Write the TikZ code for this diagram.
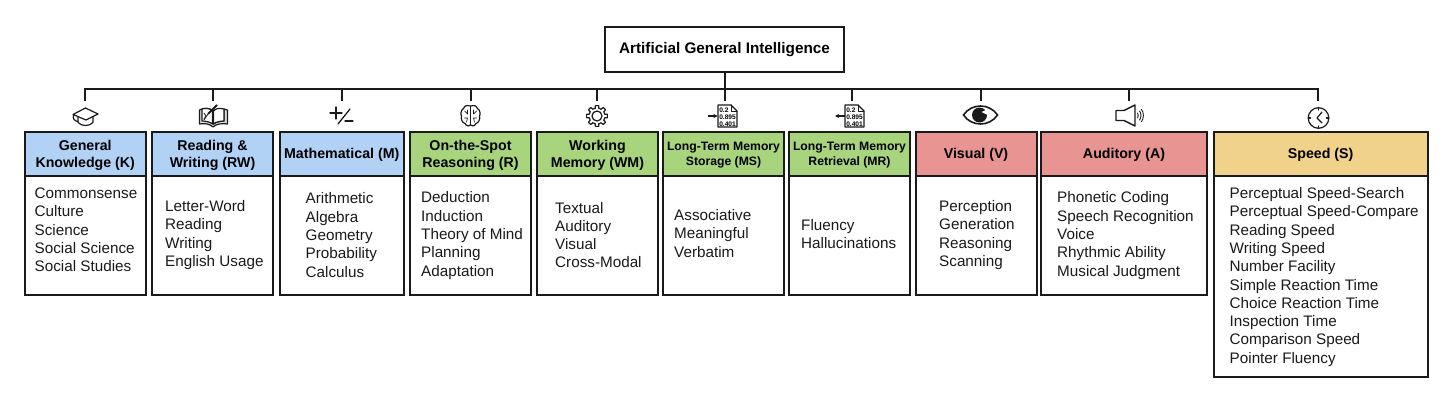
\documentclass[tikz,border=0pt]{standalone}
\usepackage{fontspec}
\setmainfont{Liberation Sans}
\usepackage{xcolor}
\definecolor{knowBlue}{RGB}{178, 210, 245}
\definecolor{thinkGreen}{RGB}{168, 212, 126}
\definecolor{senseRed}{RGB}{231, 148, 146}
\definecolor{speedYellow}{RGB}{240, 210, 138}
\definecolor{lineBlack}{RGB}{26, 26, 26}
\definecolor{pageGray}{RGB}{150, 150, 150}
\usepackage{tikz}
\usetikzlibrary{positioning,arrows.meta}
\tikzset{
rootbox/.style={draw=lineBlack, line width=2pt, fill=white, minimum width=239pt, minimum height=45pt, outer sep=0pt, font=\fontsize{15.3}{18}\selectfont\bfseries},
headbox/.style={draw=lineBlack, line width=2pt, minimum height=43.5pt, inner sep=0pt, outer sep=0pt, text depth=0pt, align=center, font=\fontsize{14.2}{17}\selectfont\bfseries},
smallhead/.style={headbox, font=\fontsize{12.2}{15}\selectfont\bfseries},
bodybox/.style={draw=lineBlack, line width=2pt, fill=white, inner sep=0pt, outer sep=0pt},
itemlist/.style={anchor=west, inner sep=0pt, align=left, text=lineBlack, font=\fontsize{15.25}{18.3}\selectfont},
iconspot/.style={inner sep=0pt, minimum width=20pt, minimum height=32pt, outer sep=0pt},
conn/.style={draw=lineBlack, line width=2pt},
iconline/.style={draw=lineBlack, line width=1.2pt, line join=round, line cap=round},
pics/capicon/.style={code={
\draw[iconline] (-12.5,-1.5) -- (0,-8) -- (12.5,-2) -- (0.5,4) -- cycle;
\draw[iconline] (-7.5,1.5) -- (-7.5,6.5) .. controls (-4,10.5) and (4,10.5) .. (7.5,6.5) -- (7.5,1.5);
\draw[iconline] (-12,-1) .. controls (-13,3) and (-11,5) .. (-7.5,5.5);
}},
pics/bookicon/.style={code={
\draw[iconline, fill=pageGray!35] (-13.5,-6) -- (-13.5,8) .. controls (-8,7) and (-3,8) .. (0,11) .. controls (3,8) and (9,7) .. (14.5,8) -- (14.5,-6) -- (11,-7) -- (11,5) .. controls (7,5) and (3,6) .. (0.5,8) -- (0.5,-5) .. controls (-3,-8) and (-8,-8) .. (-11,-7) -- cycle;
\draw[iconline, fill=white] (0.5,-5) .. controls (3,-8) and (7,-8) .. (11,-7) -- (11,5) .. controls (7,5) and (3,6) .. (0.5,8) -- cycle;
\draw[iconline, fill=white] (-11,-7) .. controls (-8,-8) and (-3,-8) .. (-0.5,-5) -- (-0.5,8) .. controls (-3,6) and (-7,5) .. (-11,5) -- cycle;
\draw[draw=lineBlack, line width=2pt] (4,-11) -- (-5,-2);
\draw[iconline, line width=0.7pt] (-5,-2) -- (-9,4) (-9,-3) -- (-7,0) -- (-9,3);
}},
pics/plusminus/.style={code={
\draw[iconline, line width=1.3pt] (-12,-3) -- (0,-3) (-6,-9) -- (-6,3);
\draw[iconline, line width=1.3pt] (8,-7) -- (-4,8);
\draw[iconline, line width=1.3pt] (3,5) -- (11,5);
}},
pics/brainicon/.style={code={
\draw[iconline] (0,-10) .. controls (-5,-11.5) and (-7,-9) .. (-7,-7.5) .. controls (-10,-6) and (-10,-1) .. (-9,0) .. controls (-10,3) and (-8,7) .. (-5.5,7.5) .. controls (-4,10.5) and (-1,10.5) .. (0,9) .. controls (1,10.5) and (4,10.5) .. (5.5,7.5) .. controls (8,7) and (10,3) .. (9,0) .. controls (10,-1) and (10,-6) .. (7,-7.5) .. controls (7,-9) and (5,-11.5) .. (0,-10) -- cycle;
\draw[iconline, line width=0.7pt] (0,-10) -- (0,9) (-6,-5) -- (-3,-2) -- (-3,-6) (-6,2) -- (-3,2) -- (-4,6) (6,-5) -- (3,-2) -- (3,-6) (6,2) -- (3,2) -- (4,6);
}},
pics/gearicon/.style={code={
\draw[iconline, line width=1.2pt] (0,0) circle (5);
\foreach \a in {0,45,...,315}{
\draw[iconline, line width=1.2pt] (\a-13:8) -- (\a-9:10.5) -- (\a+9:10.5) -- (\a+13:8) arc[start angle=\a+13, end angle=\a+32, radius=8];
}
}},
pics/docicon/.style={code={
\draw[iconline, line width=1.3pt] (-7,-11) -- (6,-11) -- (12,-5) -- (12,11) -- (-7,11) -- cycle;
\draw[iconline, line width=0.8pt] (6,-11) -- (6,-5) -- (12,-5);
\node[inner sep=0pt, font=\fontsize{6.6}{6.8}\selectfont\bfseries, align=left] (numbers) at (2.5,1) {0.2\\0.895\\0.401};
\draw[draw=lineBlack, line width=1.5pt, #1] (-17,0) -- (-7.5,0);
}},
pics/eyeicon/.style={code={
\draw[draw=lineBlack, line width=1.6pt, line join=miter] (-17,0) .. controls (-9,-12) and (9,-12) .. (17,0) .. controls (9,12) and (-9,12) .. (-17,0) -- cycle;
\fill[lineBlack] (-1,0) circle (7.5);
\fill[white] (1,-3) -- (7,-6) -- (7,0) -- cycle;
}},
pics/speakericon/.style={code={
\draw[iconline, line width=1.4pt] (-14,-5) -- (-6,-5) -- (5,-10.5) -- (5,10.5) -- (-6,5) -- (-14,5) -- cycle;
\draw[iconline, line width=0.9pt] (7.5,-2.5) .. controls (8.5,-1) and (8.5,1) .. (7.5,2.5);
\draw[iconline, line width=0.9pt] (9.5,-4.5) .. controls (11.5,-2) and (11.5,2) .. (9.5,4.5);
\draw[iconline, line width=0.9pt] (11.5,-6) .. controls (14,-3) and (14,3) .. (11.5,6);
}},
pics/clockicon/.style={code={
\draw[iconline, line width=1.2pt] (0,0) circle (10.3);
\draw[iconline, line width=1.2pt] (3.5,-6) -- (-1.5,0) -- (3.5,5);
\draw[iconline] (0,-10.3) -- (0,-8) (0,10.3) -- (0,8) (-10.3,0) -- (-8,0) (10.3,0) -- (8,0);
}}
}

\begin{document}
\begin{tikzpicture}[x=1pt, y=-1pt, >={Stealth[length=4pt,width=4pt]}]
\useasboundingbox (0,0) rectangle (1456,420);

\node[rootbox] (root) at (724.5,49.5) {Artificial General Intelligence};

\node[iconspot] (iconK) at (85,117) {};
\node[iconspot] (iconRW) at (213,117) {};
\node[iconspot] (iconM) at (342,117) {};
\node[iconspot] (iconR) at (470.5,117) {};
\node[iconspot] (iconWM) at (597,117) {};
\node[iconspot] (iconMS) at (725,117) {};
\node[iconspot] (iconMR) at (852,117) {};
\node[iconspot] (iconV) at (980.5,117) {};
\node[iconspot] (iconA) at (1128.5,117) {};
\node[iconspot] (iconS) at (1318,117) {};

\pic at (85.5,116) {capicon};
\pic at (213,116) {bookicon};
\pic at (342,116) {plusminus};
\pic at (470.5,116) {brainicon};
\pic at (597,116) {gearicon};
\pic (store) at (725,116) {docicon=->};
\pic (fetch) at (852,116) {docicon=<-};
\pic at (980.5,115) {eyeicon};
\pic at (1130,115.5) {speakericon};
\pic at (1318.5,118) {clockicon};

\coordinate (busK) at (85,89);
\coordinate (busRW) at (213,89);
\coordinate (busM) at (342,89);
\coordinate (busR) at (470.5,89);
\coordinate (busWM) at (597,89);
\coordinate (busMR) at (852,89);
\coordinate (busV) at (980.5,89);
\coordinate (busA) at (1128.5,89);
\coordinate (busS) at (1318,89);

\draw[conn] (iconK.north) -- (busK) -- (busS) -- (iconS.north);
\draw[conn] (root.south -| iconMS) -- (iconMS.north);
\draw[conn] (busRW) -- (iconRW.north);
\draw[conn] (busM) -- (iconM.north);
\draw[conn] (busR) -- (iconR.north);
\draw[conn] (busWM) -- (iconWM.north);
\draw[conn] (busMR) -- (iconMR.north);
\draw[conn] (busV) -- (iconV.north);
\draw[conn] (busA) -- (iconA.north);

\node[headbox, fill=knowBlue, minimum width=121.5pt] (headK) at (85.25,153.75) {General\\Knowledge (K)};
\node[headbox, fill=knowBlue, minimum width=121pt] (headRW) at (212.5,153.75) {Reading \&\\Writing (RW)};
\node[headbox, fill=knowBlue, minimum width=124.5pt] (headM) at (341.75,153.75) {Mathematical (M)};
\node[headbox, fill=thinkGreen, minimum width=121pt] (headR) at (470.5,153.75) {On-the-Spot\\Reasoning (R)};
\node[headbox, fill=thinkGreen, minimum width=121pt] (headWM) at (597.5,153.75) {Working\\Memory (WM)};
\node[smallhead, fill=thinkGreen, minimum width=121pt] (headMS) at (723.5,153.75) {Long-Term Memory\\Storage (MS)};
\node[smallhead, fill=thinkGreen, minimum width=121pt] (headMR) at (849.5,153.75) {Long-Term Memory\\Retrieval (MR)};
\node[headbox, fill=senseRed, minimum width=121pt] (headV) at (976,153.75) {Visual (V)};
\node[headbox, fill=senseRed, minimum width=166pt] (headA) at (1124,153.75) {Auditory (A)};
\node[headbox, fill=speedYellow, minimum width=214.2pt] (headS) at (1320.6,153.75) {Speed (S)};

\node[bodybox, minimum width=121.5pt, minimum height=119.5pt, below=0pt of headK] (bodyK) {};
\node[bodybox, minimum width=121pt, minimum height=119.5pt, below=0pt of headRW] (bodyRW) {};
\node[bodybox, minimum width=124.5pt, minimum height=119.5pt, below=0pt of headM] (bodyM) {};
\node[bodybox, minimum width=121pt, minimum height=119.5pt, below=0pt of headR] (bodyR) {};
\node[bodybox, minimum width=121pt, minimum height=119.5pt, below=0pt of headWM] (bodyWM) {};
\node[bodybox, minimum width=121pt, minimum height=119.5pt, below=0pt of headMS] (bodyMS) {};
\node[bodybox, minimum width=121pt, minimum height=119.5pt, below=0pt of headMR] (bodyMR) {};
\node[bodybox, minimum width=121pt, minimum height=119.5pt, below=0pt of headV] (bodyV) {};
\node[bodybox, minimum width=166pt, minimum height=119.5pt, below=0pt of headA] (bodyA) {};
\node[bodybox, minimum width=214.2pt, minimum height=201.5pt, below=0pt of headS] (bodyS) {};

\node[itemlist] (listK) at (34.5,230) {Commonsense\\Culture\\Science\\Social Science\\Social Studies};
\node[itemlist] (listRW) at (165,235) {Letter-Word\\Reading\\Writing\\English Usage};
\node[itemlist] (listM) at (305.5,235) {Arithmetic\\Algebra\\Geometry\\Probability\\Calculus};
\node[itemlist] (listR) at (421,235.5) {Deduction\\Induction\\Theory of Mind\\Planning\\Adaptation};
\node[itemlist] (listWM) at (555,235) {Textual\\Auditory\\Visual\\Cross-Modal};
\node[itemlist] (listMS) at (674,233.5) {Associative\\Meaningful\\Verbatim};
\node[itemlist] (listMR) at (801,234) {Fluency\\Hallucinations};
\node[itemlist] (listV) at (939,235) {Perception\\Generation\\Reasoning\\Scanning};
\node[itemlist] (listA) at (1057,235.5) {Phonetic Coding\\Speech Recognition\\Voice\\Rhythmic Ability\\Musical Judgment};
\node[itemlist] (listS) at (1229.5,277) {Perceptual Speed-Search\\Perceptual Speed-Compare\\Reading Speed\\Writing Speed\\Number Facility\\Simple Reaction Time\\Choice Reaction Time\\Inspection Time\\Comparison Speed\\Pointer Fluency};
\end{tikzpicture}
\end{document}
